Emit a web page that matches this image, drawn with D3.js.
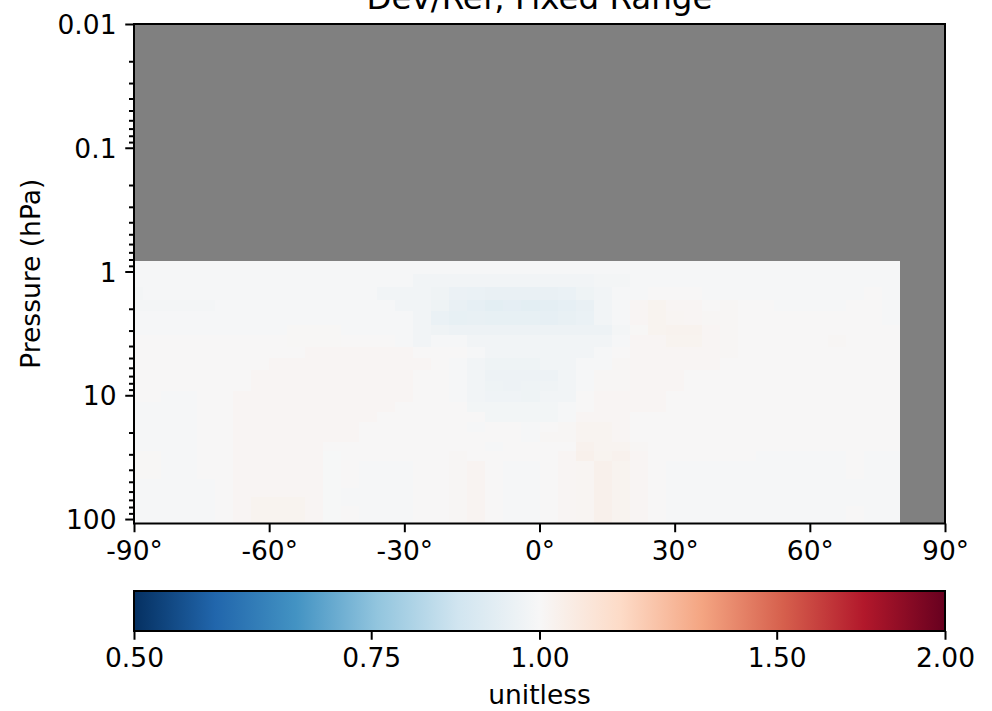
<!DOCTYPE html>
<html>
<head>
<meta charset="utf-8">
<script src="https://cdn.jsdelivr.net/npm/d3@7"></script>
<style>
  body { margin: 0; background: #ffffff; }
  svg { display: block; }
  text { font-family: "DejaVu Sans", sans-serif; fill: #000; }
</style>
</head>
<body>
<svg id="chart" width="992" height="711"></svg>
<script>
// ---------------- data ----------------
const chartTitle = "Dev/Ref, Fixed Range";
const yAxisLabel = "Pressure (hPa)";
const colorbarLabel = "unitless";

const xTickValues = [-90, -60, -30, 0, 30, 60, 90];
const xTickLabels = ["-90°", "-60°", "-30°", "0°", "30°", "60°", "90°"];
const yTickValues = [0.01, 0.1, 1, 10, 100];
const yTickLabels = ["0.01", "0.1", "1", "10", "100"];
const cbarTickValues = [0.5, 0.75, 1, 1.5, 2];
const cbarTickLabels = ["0.50", "0.75", "1.00", "1.50", "2.00"];

const xDomain = [-90, 90];
const yDomain = [0.01, 108.663];
const cbarDomain = [0.5, 2];

// RdBu_r palette (low -> high)
const palette = ["#053061", "#2166ac", "#4393c3", "#92c5de", "#d1e5f0", "#f7f7f7",
                 "#fddbc7", "#f4a582", "#d6604d", "#b2182b", "#67001f"];
const missingColor = "#808080";

// grid cell edges
const latEdges = [-90, -88, -84, -80, -76, -72, -68, -64, -60, -56, -52, -48, -44, -40,
                  -36, -32, -28, -24, -20, -16, -12, -8, -4, 0, 4, 8, 12, 16, 20, 24,
                  28, 32, 36, 40, 44, 48, 52, 56, 60, 64, 68, 72, 76, 80];
const pressureEdges = [0.827, 1.048, 1.342, 1.690, 2.097, 2.690, 3.277, 4.087, 5.044,
                       6.216, 7.619, 9.292, 11.277, 13.643, 16.457, 19.791, 23.730,
                       28.368, 33.810, 40.175, 47.644, 56.388, 66.603, 78.512, 92.366,
                       108.663];

// Dev/Ref ratio, rows top (low pressure) -> bottom, columns south -> north
const ratioRow00 = [0.993,0.993,0.993,0.993,0.993,0.993,0.993,0.993,0.993,0.993,0.993,0.993,0.993,0.993,0.993,0.993,0.993,0.993,0.993,0.993,0.993,0.993,0.993,0.993,0.993,0.993,0.993,0.993,0.993,0.993,0.993,0.993,0.993,0.993,0.993,0.993,0.993,0.993,0.993,0.993,0.993,0.993,0.993];
const ratioRow01 = [0.993,0.993,0.993,0.993,0.993,0.993,0.993,0.993,0.993,0.993,0.993,0.993,0.993,0.993,0.993,0.993,0.980,0.980,0.980,0.980,0.980,0.980,0.980,0.980,0.980,0.980,0.985,0.985,0.993,0.993,0.993,0.993,0.993,0.993,0.993,0.993,0.993,0.993,0.993,0.993,0.993,0.993,0.993];
const ratioRow02 = [0.985,0.993,0.993,0.993,0.993,0.993,0.993,0.993,0.993,0.993,0.993,0.993,0.993,0.993,0.980,0.980,0.980,0.970,0.958,0.955,0.950,0.950,0.950,0.950,0.952,0.967,0.980,0.993,0.993,1.003,1.003,1.003,0.993,0.993,0.993,0.993,0.993,0.993,0.993,0.993,0.993,1.003,0.993];
const ratioRow03 = [0.985,0.985,0.985,0.985,0.985,0.993,0.993,0.993,0.993,0.993,0.993,0.993,0.993,0.993,0.993,0.980,0.980,0.967,0.950,0.940,0.930,0.935,0.930,0.933,0.940,0.950,0.980,0.993,1.013,1.022,1.013,1.013,1.003,1.008,1.003,1.003,0.993,0.993,0.993,0.993,1.003,1.003,0.993];
const ratioRow04 = [0.993,0.993,0.993,0.993,0.993,0.993,0.993,0.993,0.993,0.993,0.993,0.993,0.993,0.993,0.993,0.993,0.980,0.955,0.945,0.948,0.945,0.945,0.945,0.940,0.948,0.955,0.980,0.993,1.013,1.022,1.015,1.013,1.008,1.008,1.003,1.003,1.003,1.003,1.003,1.003,1.003,1.003,0.993];
const ratioRow05 = [0.993,0.993,0.993,0.993,0.993,0.993,0.993,0.993,0.993,1.005,1.005,1.005,0.993,0.993,0.993,0.993,0.980,0.970,0.965,0.965,0.965,0.965,0.965,0.965,0.965,0.965,0.965,0.985,1.005,1.022,1.025,1.025,1.013,1.008,1.003,1.003,1.003,1.003,1.003,1.003,1.003,1.003,1.003];
const ratioRow06 = [1.003,1.003,1.003,1.003,1.003,1.003,1.003,1.003,1.003,1.005,1.005,1.005,1.003,1.003,1.003,0.993,0.980,0.993,0.993,0.978,0.978,0.978,0.978,0.978,0.978,0.978,0.978,0.993,1.013,1.013,1.022,1.022,1.013,1.008,1.003,1.003,1.003,1.003,1.003,1.008,1.003,1.003,1.003];
const ratioRow07 = [1.003,1.003,1.003,1.003,1.003,1.003,1.003,1.003,1.003,1.003,1.013,1.013,1.013,1.013,1.013,1.013,1.003,1.003,1.003,0.993,0.980,0.980,0.980,0.980,0.980,0.980,0.993,1.003,1.013,1.013,1.013,1.013,1.013,1.008,1.003,1.003,1.003,1.003,1.003,1.003,1.003,1.003,1.003];
const ratioRow08 = [1.003,1.003,1.003,1.003,1.003,1.003,1.003,1.003,1.013,1.013,1.013,1.013,1.013,1.013,1.013,1.013,1.013,1.003,0.993,0.978,0.968,0.968,0.968,0.980,0.980,0.993,0.993,1.008,1.013,1.013,1.013,1.013,1.013,1.003,1.003,1.003,1.003,1.003,1.003,1.003,1.003,1.003,1.003];
const ratioRow09 = [1.003,1.003,1.003,1.003,1.003,1.003,1.003,1.013,1.013,1.013,1.013,1.013,1.013,1.013,1.013,1.013,1.003,1.003,0.993,0.980,0.965,0.965,0.965,0.965,0.980,0.993,1.008,1.008,1.013,1.013,1.013,1.003,1.003,1.003,1.003,1.003,1.003,1.003,1.003,1.003,1.003,1.003,1.003];
const ratioRow10 = [1.003,1.003,1.003,1.003,1.003,1.003,1.003,1.013,1.013,1.013,1.013,1.013,1.013,1.013,1.013,1.013,1.003,1.003,0.993,0.980,0.967,0.965,0.967,0.970,0.980,0.993,1.008,1.008,1.013,1.013,1.013,1.003,1.003,1.003,1.003,1.003,1.003,1.003,1.003,1.003,1.003,1.003,1.003];
const ratioRow11 = [1.003,1.003,0.993,0.993,1.003,1.003,1.013,1.013,1.013,1.013,1.013,1.013,1.013,1.013,1.013,1.013,1.003,1.003,0.993,0.980,0.972,0.972,0.968,0.980,0.980,1.003,1.013,1.013,1.013,1.013,1.003,1.003,1.003,1.003,1.003,1.003,1.003,1.003,1.003,1.003,1.003,1.003,1.003];
const ratioRow12 = [0.993,0.993,0.993,0.993,1.003,1.003,1.013,1.013,1.013,1.013,1.013,1.013,1.013,1.013,1.013,1.003,1.003,1.003,1.003,0.982,0.982,0.982,0.982,0.982,0.993,1.003,1.013,1.013,1.013,1.013,1.003,1.003,1.003,1.003,1.003,1.003,1.003,1.003,1.003,1.003,1.003,1.003,1.003];
const ratioRow13 = [0.993,0.993,0.993,0.993,1.003,1.003,1.013,1.013,1.013,1.013,1.013,1.013,1.013,1.013,1.003,1.003,1.003,1.003,1.003,1.003,0.982,0.982,0.982,0.982,0.993,1.013,1.013,1.013,1.003,1.003,1.003,1.003,1.003,1.003,1.003,1.003,1.003,1.003,1.003,1.003,1.003,1.003,1.003];
const ratioRow14 = [0.993,0.993,0.993,0.993,1.003,1.003,1.013,1.013,1.013,1.013,1.013,1.013,1.013,1.003,1.003,1.003,1.003,1.003,1.003,0.993,1.003,1.003,0.993,1.003,1.008,1.020,1.020,1.013,1.003,1.003,1.003,1.003,1.003,1.003,1.003,1.003,1.003,1.003,1.003,1.003,1.003,1.003,1.003];
const ratioRow15 = [0.993,0.993,0.993,0.993,1.003,1.003,1.013,1.013,1.013,1.013,1.013,1.013,1.013,1.003,1.003,1.003,1.003,1.003,1.003,1.003,1.003,1.003,0.993,1.008,1.008,1.020,1.020,1.013,1.003,1.003,1.003,1.003,1.003,1.003,1.003,1.003,1.003,1.003,1.003,1.003,1.003,1.003,1.003];
const ratioRow16 = [0.993,0.993,0.993,0.993,1.003,1.003,1.013,1.013,1.013,1.013,1.013,1.003,1.003,1.003,1.003,1.003,1.003,1.003,1.003,1.003,0.993,1.003,1.003,1.003,1.003,1.030,1.020,1.020,1.008,1.003,1.003,1.003,1.003,1.003,1.003,1.003,1.003,1.003,1.003,1.003,1.003,1.003,1.003];
const ratioRow17 = [1.005,1.005,0.993,0.993,1.003,1.003,1.013,1.013,1.013,1.013,1.013,0.997,1.003,1.003,1.003,1.003,1.003,1.003,1.008,1.003,1.003,1.003,1.003,1.003,1.013,1.035,1.022,1.030,1.013,1.003,1.003,1.003,1.003,1.003,1.003,0.993,0.993,0.993,0.993,0.993,1.003,0.993,0.993];
const ratioRow18 = [1.005,1.005,0.993,0.993,1.003,1.003,1.013,1.013,1.013,1.013,1.013,0.997,1.003,0.993,0.993,0.993,1.003,1.003,1.008,1.018,1.003,0.993,0.993,1.003,1.013,1.015,1.035,1.022,1.013,1.003,0.993,0.993,0.993,0.993,0.993,0.993,0.993,0.993,0.993,0.993,1.003,0.993,0.993];
const ratioRow19 = [1.005,1.005,0.993,0.993,1.003,1.003,1.013,1.013,1.013,1.013,1.013,0.997,1.003,0.993,0.993,0.993,1.003,1.003,1.008,1.018,1.003,0.993,0.993,1.003,1.013,1.015,1.035,1.022,1.013,1.003,0.993,0.993,0.993,0.993,0.993,0.993,0.993,0.993,0.993,0.993,1.003,0.993,0.993];
const ratioRow20 = [0.993,0.993,0.993,0.993,0.993,1.003,1.013,1.013,1.013,1.013,1.013,0.997,1.003,0.993,0.993,0.993,1.003,1.003,1.008,1.018,1.003,0.993,0.993,1.003,1.013,1.015,1.035,1.022,1.013,1.003,0.993,0.993,0.993,0.993,0.993,0.993,0.993,0.993,0.993,0.993,0.993,0.993,0.993];
const ratioRow21 = [0.993,0.993,0.993,0.993,0.993,1.003,1.013,1.013,1.013,1.013,1.013,0.997,0.993,0.993,0.993,0.993,1.003,1.003,1.008,1.018,1.003,0.993,0.993,1.003,1.013,1.015,1.035,1.022,1.013,1.003,0.993,0.993,0.993,0.993,0.993,0.993,0.993,0.993,0.993,0.993,0.993,0.993,0.993];
const ratioRow22 = [0.993,0.993,0.993,0.993,0.993,1.003,1.013,1.022,1.022,1.022,1.013,0.997,0.993,0.993,0.993,0.993,1.003,1.003,1.008,1.018,1.003,0.993,0.993,1.003,1.013,1.015,1.035,1.022,1.013,1.003,0.993,0.993,0.993,0.993,0.993,0.993,0.993,0.993,0.993,0.993,0.993,0.993,0.993];
const ratioRow23 = [0.993,0.993,0.993,0.993,0.993,1.003,1.013,1.022,1.022,1.022,1.013,0.997,1.003,0.993,0.993,0.993,1.003,1.003,1.008,1.018,1.003,0.993,0.993,1.003,1.013,1.015,1.035,1.022,1.013,1.003,0.993,0.993,0.993,0.993,0.993,0.993,0.993,0.993,0.993,0.993,1.003,0.993,0.993];
const ratioRow24 = [0.993,0.993,0.993,0.993,0.993,1.003,1.013,1.022,1.022,1.022,1.013,0.997,1.003,0.993,0.993,0.993,1.003,1.003,1.008,1.018,1.003,0.993,0.993,1.003,1.013,1.015,1.035,1.022,1.013,1.003,0.993,0.993,0.993,0.993,0.993,0.993,0.993,0.993,0.993,0.993,1.003,0.993,0.993];

const ratioRows = [ratioRow00, ratioRow01, ratioRow02, ratioRow03, ratioRow04, ratioRow05,
  ratioRow06, ratioRow07, ratioRow08, ratioRow09, ratioRow10, ratioRow11, ratioRow12,
  ratioRow13, ratioRow14, ratioRow15, ratioRow16, ratioRow17, ratioRow18, ratioRow19,
  ratioRow20, ratioRow21, ratioRow22, ratioRow23, ratioRow24];

// ---------------- layout ----------------
const plot = { left: 134, right: 945, top: 24, bottom: 523.5 };
const cbar = { left: 134, right: 945, top: 591, bottom: 631 };
const majorLen = 8.75, minorLen = 5, tickPad = 8.75;
const lineW = 2;
const fontSize = 26.5;
const titleSize = 32.5;

const svg = d3.select("#chart");

const x = d3.scaleLinear().domain(xDomain).range([plot.left, plot.right]);
const y = d3.scaleLog().domain(yDomain).range([plot.top, plot.bottom]);
const cNorm = d3.scaleLog().domain(cbarDomain).range([0, 1]).clamp(true);
const cmap = d3.scaleLinear()
  .domain(d3.range(palette.length).map(i => i / (palette.length - 1)))
  .range(palette)
  .interpolate(d3.interpolateRgb);
const colorOf = v => cmap(cNorm(v));

// background (missing data)
svg.append("rect")
  .attr("x", plot.left).attr("y", plot.top)
  .attr("width", plot.right - plot.left).attr("height", plot.bottom - plot.top)
  .attr("fill", missingColor);

// cells
const cells = [];
ratioRows.forEach((row, r) => {
  row.forEach((v, c) => {
    cells.push({ lat0: latEdges[c], lat1: latEdges[c + 1], p0: pressureEdges[r], p1: pressureEdges[r + 1], v });
  });
});
svg.append("g").attr("shape-rendering", "crispEdges")
  .selectAll("rect").data(cells).join("rect")
  .attr("x", d => x(d.lat0))
  .attr("y", d => y(d.p0))
  .attr("width", d => x(d.lat1) - x(d.lat0) + 0.5)
  .attr("height", d => y(d.p1) - y(d.p0) + 0.5)
  .attr("fill", d => colorOf(d.v));

// frame
svg.append("rect")
  .attr("x", plot.left).attr("y", plot.top)
  .attr("width", plot.right - plot.left).attr("height", plot.bottom - plot.top)
  .attr("fill", "none").attr("stroke", "#000").attr("stroke-width", lineW);

function styleAxis(g) {
  g.select(".domain").remove();
  g.selectAll(".tick line").attr("stroke", "#000").attr("stroke-width", lineW);
  g.selectAll(".tick text").attr("font-size", fontSize).attr("font-family", "DejaVu Sans");
}

// x axis
const xAxis = d3.axisBottom(x).tickValues(xTickValues)
  .tickFormat((d, i) => xTickLabels[i]).tickSize(majorLen).tickPadding(tickPad);
svg.append("g").attr("transform", `translate(0,${plot.bottom})`).call(xAxis).call(styleAxis);

// y axis major
const yAxis = d3.axisLeft(y).tickValues(yTickValues)
  .tickFormat((d, i) => yTickLabels[i]).tickSize(majorLen).tickPadding(tickPad);
svg.append("g").attr("transform", `translate(${plot.left},0)`).call(yAxis).call(styleAxis)
  .selectAll(".tick text").attr("dy", "0.36em");

// y axis minor
const minorVals = y.ticks().filter(v => !yTickValues.some(m => Math.abs(m - v) / m < 1e-6));
const yMinor = d3.axisLeft(y).tickValues(minorVals).tickFormat("").tickSize(minorLen);
svg.append("g").attr("transform", `translate(${plot.left},0)`).call(yMinor).call(styleAxis);

// y label
svg.append("text")
  .attr("transform", `translate(40,${(plot.top + plot.bottom) / 2}) rotate(-90)`)
  .attr("text-anchor", "middle").attr("font-size", fontSize)
  .text(yAxisLabel);

// title
svg.append("text")
  .attr("x", (plot.left + plot.right) / 2).attr("y", 9)
  .attr("text-anchor", "middle").attr("font-size", titleSize)
  .text(chartTitle);

// colorbar
const defs = svg.append("defs");
const grad = defs.append("linearGradient").attr("id", "cbarGrad")
  .attr("x1", "0%").attr("x2", "100%").attr("y1", "0%").attr("y2", "0%");
grad.selectAll("stop").data(palette).join("stop")
  .attr("offset", (d, i) => (i / (palette.length - 1) * 100) + "%")
  .attr("stop-color", d => d);

const cx = d3.scaleLog().domain(cbarDomain).range([cbar.left, cbar.right]);
svg.append("rect")
  .attr("x", cbar.left).attr("y", cbar.top)
  .attr("width", cbar.right - cbar.left).attr("height", cbar.bottom - cbar.top)
  .attr("fill", "url(#cbarGrad)")
  .attr("stroke", "#000").attr("stroke-width", lineW);

const cAxis = d3.axisBottom(cx).tickValues(cbarTickValues)
  .tickFormat((d, i) => cbarTickLabels[i]).tickSize(majorLen).tickPadding(tickPad);
svg.append("g").attr("transform", `translate(0,${cbar.bottom})`).call(cAxis).call(styleAxis);

svg.append("text")
  .attr("x", (cbar.left + cbar.right) / 2).attr("y", 704)
  .attr("text-anchor", "middle").attr("font-size", fontSize)
  .text(colorbarLabel);
</script>
</body>
</html>
